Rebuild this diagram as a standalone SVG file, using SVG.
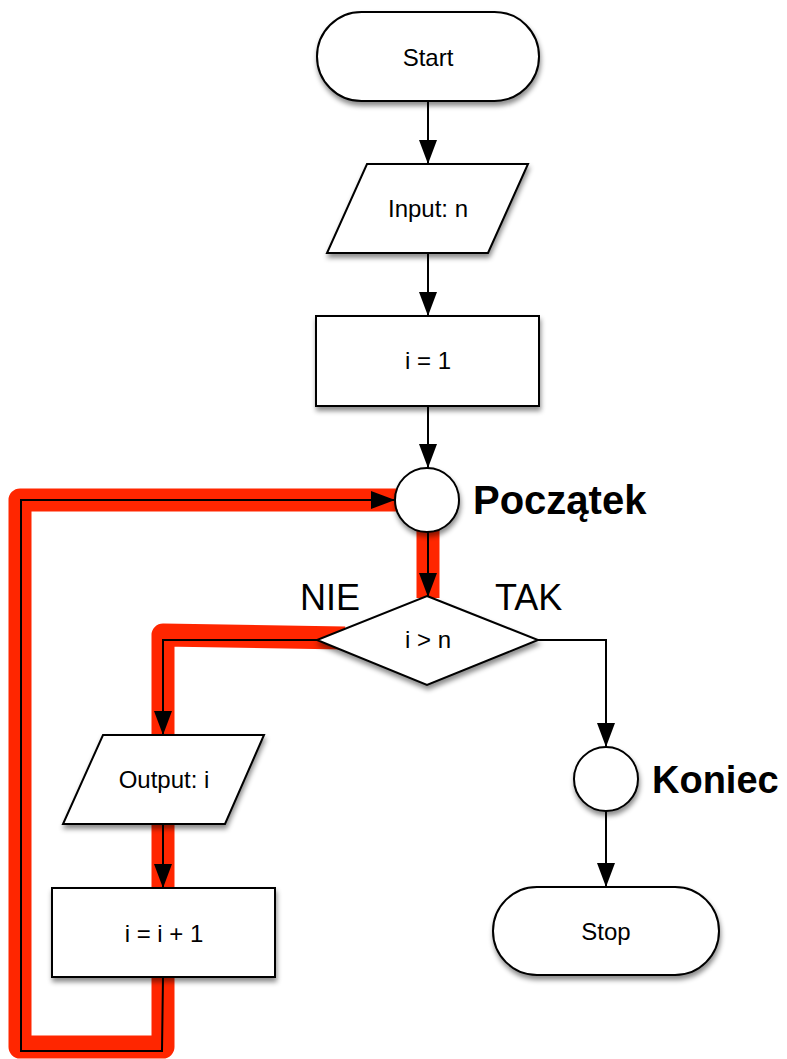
<svg xmlns="http://www.w3.org/2000/svg" width="787" height="1059" viewBox="0 0 787 1059">
<style>
.node{fill:#fff;stroke:#000;stroke-width:2;filter:url(#sh)}
.lbl{font-family:"Liberation Sans",Arial,sans-serif;font-size:24px;fill:#000;text-anchor:middle}
.big{font-family:"Liberation Sans",Arial,sans-serif;font-size:38px;font-weight:bold;fill:#000}
.yn{font-family:"Liberation Sans",Arial,sans-serif;font-size:36px;fill:#000}
.hl{fill:none;stroke:#FF2600;stroke-width:23;stroke-linejoin:round}
.ln{fill:none;stroke:#000;stroke-width:2}
.arr{marker-end:url(#ah)}
</style>
<defs>
<filter id="sh" x="-20%" y="-20%" width="140%" height="150%">
<feDropShadow dx="1" dy="4" stdDeviation="2.5" flood-color="#000" flood-opacity="0.45"/>
</filter>
<marker id="ah" markerUnits="userSpaceOnUse" markerWidth="24" markerHeight="18" refX="24" refY="9" orient="auto">
<path d="M0,0 L24,9 L0,18 Z" fill="#000"/>
</marker>
</defs>
<rect width="787" height="1059" fill="#fff"/>
<g id="highlight">
<polyline class="hl" points="163,960 163,1047 20,1047 20,500 400,500"/>
<line class="hl" x1="428" y1="520" x2="428" y2="598" style="stroke-linecap:butt"/>
<polyline class="hl" points="345,638 163,635 163,740"/>
<line class="hl" x1="163" y1="815" x2="163" y2="895"/>
</g>
<g id="connectors">
<line class="ln arr" x1="428" y1="101" x2="428" y2="164"/>
<line class="ln arr" x1="428" y1="253" x2="428" y2="316"/>
<line class="ln arr" x1="428" y1="406" x2="428" y2="468"/>
<line class="ln arr" x1="428" y1="532" x2="428" y2="597"/>
<polyline class="ln arr" points="317,640 163,640 163,735"/>
<line class="ln arr" x1="163" y1="824" x2="163" y2="888"/>
<polyline class="ln arr" points="163,977 162,1051 21,1051 21,500 395,500"/>
<polyline class="ln arr" points="538,640 606,640 606,747"/>
<line class="ln arr" x1="606" y1="811" x2="606" y2="887"/>
</g>
<g id="start">
<rect class="node" x="317" y="12" width="222" height="89" rx="44.5"/>
<text class="lbl" x="428" y="66">Start</text>
</g>
<g id="input">
<polygon class="node" points="367,164 528,164 488,253 327,253"/>
<text class="lbl" x="428" y="217">Input: n</text>
</g>
<g id="init">
<rect class="node" x="316" y="316" width="223" height="90"/>
<text class="lbl" x="428" y="369">i = 1</text>
</g>
<g id="poczatek">
<circle class="node" cx="427" cy="500" r="32"/>
<text class="big" x="473" y="514" style="font-size:40px">Początek</text>
</g>
<g id="decision">
<polygon class="node" points="427,596 538,640 427,685 317,640"/>
<text class="lbl" x="428" y="648">i &gt; n</text>
<text class="yn" x="300" y="610">NIE</text>
<text class="yn" x="495" y="610">TAK</text>
</g>
<g id="output">
<polygon class="node" points="103,735 264,735 225,824 63,824"/>
<text class="lbl" x="164" y="788">Output: i</text>
</g>
<g id="increment">
<rect class="node" x="52" y="888" width="223" height="89"/>
<text class="lbl" x="164" y="942">i = i + 1</text>
</g>
<g id="koniec">
<circle class="node" cx="606" cy="779" r="32"/>
<text class="big" x="652" y="793">Koniec</text>
</g>
<g id="stop">
<rect class="node" x="493" y="887" width="226" height="88" rx="44"/>
<text class="lbl" x="606" y="940">Stop</text>
</g>
</svg>
